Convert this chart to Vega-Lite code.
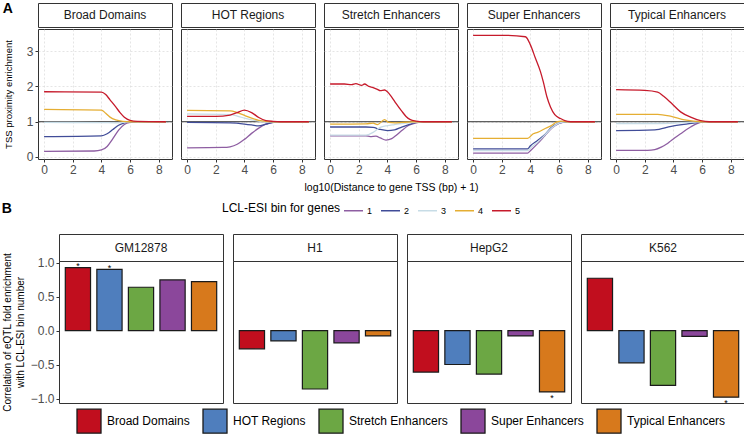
{
"$schema": "https://vega.github.io/schema/vega-lite/v6.json",
"padding": {"left": 1, "top": 1, "right": 0, "bottom": 0},
"datasets": {
"curves": [
{"p":"BD","b":"1","x":0,"y":0.16},{"p":"BD","b":"1","x":3.5,"y":0.17},{"p":"BD","b":"1","x":4,"y":0.2},{"p":"BD","b":"1","x":4.4,"y":0.3},{"p":"BD","b":"1","x":4.8,"y":0.52},{"p":"BD","b":"1","x":5.2,"y":0.76},{"p":"BD","b":"1","x":5.6,"y":0.92},{"p":"BD","b":"1","x":6,"y":0.98},{"p":"BD","b":"1","x":6.5,"y":1},{"p":"BD","b":"1","x":8.5,"y":1},
{"p":"BD","b":"2","x":0,"y":0.58},{"p":"BD","b":"2","x":4,"y":0.6},{"p":"BD","b":"2","x":4.4,"y":0.66},{"p":"BD","b":"2","x":4.8,"y":0.78},{"p":"BD","b":"2","x":5.2,"y":0.9},{"p":"BD","b":"2","x":5.6,"y":0.97},{"p":"BD","b":"2","x":6,"y":0.99},{"p":"BD","b":"2","x":6.5,"y":1},{"p":"BD","b":"2","x":8.5,"y":1},
{"p":"BD","b":"3","x":0,"y":0.98},{"p":"BD","b":"3","x":4,"y":0.975},{"p":"BD","b":"3","x":5,"y":0.97},{"p":"BD","b":"3","x":5.5,"y":0.98},{"p":"BD","b":"3","x":6,"y":0.995},{"p":"BD","b":"3","x":6.5,"y":1},{"p":"BD","b":"3","x":8.5,"y":1},
{"p":"BD","b":"4","x":0,"y":1.35},{"p":"BD","b":"4","x":4,"y":1.33},{"p":"BD","b":"4","x":4.3,"y":1.24},{"p":"BD","b":"4","x":4.6,"y":1.13},{"p":"BD","b":"4","x":5,"y":1.05},{"p":"BD","b":"4","x":5.5,"y":1.01},{"p":"BD","b":"4","x":6,"y":1},{"p":"BD","b":"4","x":8.5,"y":1},
{"p":"BD","b":"5","x":0,"y":1.85},{"p":"BD","b":"5","x":4,"y":1.84},{"p":"BD","b":"5","x":4.3,"y":1.77},{"p":"BD","b":"5","x":4.6,"y":1.62},{"p":"BD","b":"5","x":5,"y":1.42},{"p":"BD","b":"5","x":5.3,"y":1.26},{"p":"BD","b":"5","x":5.6,"y":1.13},{"p":"BD","b":"5","x":6,"y":1.04},{"p":"BD","b":"5","x":6.5,"y":1.01},{"p":"BD","b":"5","x":8.5,"y":1},
{"p":"HR","b":"1","x":0,"y":0.26},{"p":"HR","b":"1","x":2.5,"y":0.27},{"p":"HR","b":"1","x":3,"y":0.29},{"p":"HR","b":"1","x":3.5,"y":0.36},{"p":"HR","b":"1","x":4,"y":0.5},{"p":"HR","b":"1","x":4.5,"y":0.67},{"p":"HR","b":"1","x":5,"y":0.82},{"p":"HR","b":"1","x":5.5,"y":0.93},{"p":"HR","b":"1","x":6,"y":0.98},{"p":"HR","b":"1","x":6.5,"y":1},{"p":"HR","b":"1","x":8.5,"y":1},
{"p":"HR","b":"2","x":0,"y":0.98},{"p":"HR","b":"2","x":3,"y":0.965},{"p":"HR","b":"2","x":4,"y":0.935},{"p":"HR","b":"2","x":4.5,"y":0.91},{"p":"HR","b":"2","x":5,"y":0.88},{"p":"HR","b":"2","x":5.5,"y":0.93},{"p":"HR","b":"2","x":6,"y":0.98},{"p":"HR","b":"2","x":6.5,"y":1},{"p":"HR","b":"2","x":8.5,"y":1},
{"p":"HR","b":"3","x":0,"y":1.22},{"p":"HR","b":"3","x":3,"y":1.2},{"p":"HR","b":"3","x":3.5,"y":1.16},{"p":"HR","b":"3","x":4,"y":1.1},{"p":"HR","b":"3","x":4.5,"y":1.05},{"p":"HR","b":"3","x":5,"y":1.02},{"p":"HR","b":"3","x":5.5,"y":1},{"p":"HR","b":"3","x":8.5,"y":1},
{"p":"HR","b":"4","x":0,"y":1.32},{"p":"HR","b":"4","x":3,"y":1.31},{"p":"HR","b":"4","x":3.5,"y":1.26},{"p":"HR","b":"4","x":4,"y":1.18},{"p":"HR","b":"4","x":4.5,"y":1.1},{"p":"HR","b":"4","x":5,"y":1.04},{"p":"HR","b":"4","x":5.5,"y":1.01},{"p":"HR","b":"4","x":6,"y":1},{"p":"HR","b":"4","x":8.5,"y":1},
{"p":"HR","b":"5","x":0,"y":1.15},{"p":"HR","b":"5","x":2,"y":1.15},{"p":"HR","b":"5","x":3,"y":1.19},{"p":"HR","b":"5","x":3.5,"y":1.26},{"p":"HR","b":"5","x":4,"y":1.33},{"p":"HR","b":"5","x":4.5,"y":1.26},{"p":"HR","b":"5","x":5,"y":1.12},{"p":"HR","b":"5","x":5.5,"y":1.03},{"p":"HR","b":"5","x":6,"y":1.01},{"p":"HR","b":"5","x":6.5,"y":1},{"p":"HR","b":"5","x":8.5,"y":1},
{"p":"SE","b":"1","x":0,"y":0.6},{"p":"SE","b":"1","x":1.5,"y":0.6},{"p":"SE","b":"1","x":2.5,"y":0.6},{"p":"SE","b":"1","x":2.8,"y":0.58},{"p":"SE","b":"1","x":3.2,"y":0.59},{"p":"SE","b":"1","x":3.5,"y":0.54},{"p":"SE","b":"1","x":3.9,"y":0.48},{"p":"SE","b":"1","x":4.3,"y":0.52},{"p":"SE","b":"1","x":4.6,"y":0.61},{"p":"SE","b":"1","x":5,"y":0.75},{"p":"SE","b":"1","x":5.5,"y":0.9},{"p":"SE","b":"1","x":6,"y":0.97},{"p":"SE","b":"1","x":6.5,"y":1},{"p":"SE","b":"1","x":8.5,"y":1},
{"p":"SE","b":"2","x":0,"y":0.85},{"p":"SE","b":"2","x":2.5,"y":0.85},{"p":"SE","b":"2","x":3,"y":0.84},{"p":"SE","b":"2","x":3.5,"y":0.78},{"p":"SE","b":"2","x":4,"y":0.75},{"p":"SE","b":"2","x":4.5,"y":0.77},{"p":"SE","b":"2","x":5,"y":0.85},{"p":"SE","b":"2","x":5.5,"y":0.92},{"p":"SE","b":"2","x":6,"y":0.98},{"p":"SE","b":"2","x":6.5,"y":1},{"p":"SE","b":"2","x":8.5,"y":1},
{"p":"SE","b":"3","x":0,"y":0.62},{"p":"SE","b":"3","x":2.5,"y":0.62},{"p":"SE","b":"3","x":3,"y":0.7},{"p":"SE","b":"3","x":3.5,"y":0.84},{"p":"SE","b":"3","x":4,"y":0.89},{"p":"SE","b":"3","x":4.5,"y":0.92},{"p":"SE","b":"3","x":5,"y":0.95},{"p":"SE","b":"3","x":5.5,"y":0.97},{"p":"SE","b":"3","x":6,"y":0.99},{"p":"SE","b":"3","x":6.5,"y":1},{"p":"SE","b":"3","x":8.5,"y":1},
{"p":"SE","b":"4","x":0,"y":0.93},{"p":"SE","b":"4","x":2.5,"y":0.94},{"p":"SE","b":"4","x":3,"y":0.96},{"p":"SE","b":"4","x":3.3,"y":0.92},{"p":"SE","b":"4","x":3.8,"y":1.06},{"p":"SE","b":"4","x":4.1,"y":0.98},{"p":"SE","b":"4","x":4.5,"y":0.97},{"p":"SE","b":"4","x":5,"y":0.98},{"p":"SE","b":"4","x":5.5,"y":0.99},{"p":"SE","b":"4","x":6,"y":1},{"p":"SE","b":"4","x":8.5,"y":1},
{"p":"SE","b":"5","x":0,"y":2.07},{"p":"SE","b":"5","x":1,"y":2.07},{"p":"SE","b":"5","x":1.5,"y":2.05},{"p":"SE","b":"5","x":1.8,"y":2.08},{"p":"SE","b":"5","x":2.2,"y":2.03},{"p":"SE","b":"5","x":2.4,"y":2.07},{"p":"SE","b":"5","x":2.7,"y":2.0},{"p":"SE","b":"5","x":3,"y":1.97},{"p":"SE","b":"5","x":3.3,"y":1.92},{"p":"SE","b":"5","x":3.5,"y":1.88},{"p":"SE","b":"5","x":3.8,"y":1.9},{"p":"SE","b":"5","x":4,"y":1.85},{"p":"SE","b":"5","x":4.3,"y":1.7},{"p":"SE","b":"5","x":4.6,"y":1.52},{"p":"SE","b":"5","x":5,"y":1.3},{"p":"SE","b":"5","x":5.3,"y":1.15},{"p":"SE","b":"5","x":5.6,"y":1.06},{"p":"SE","b":"5","x":6,"y":1.02},{"p":"SE","b":"5","x":6.5,"y":1},{"p":"SE","b":"5","x":8.5,"y":1},
{"p":"SU","b":"1","x":0,"y":0.11},{"p":"SU","b":"1","x":3.8,"y":0.11},{"p":"SU","b":"1","x":4,"y":0.18},{"p":"SU","b":"1","x":4.5,"y":0.38},{"p":"SU","b":"1","x":5,"y":0.6},{"p":"SU","b":"1","x":5.5,"y":0.82},{"p":"SU","b":"1","x":6,"y":0.95},{"p":"SU","b":"1","x":6.5,"y":1},{"p":"SU","b":"1","x":8.5,"y":1},
{"p":"SU","b":"2","x":0,"y":0.23},{"p":"SU","b":"2","x":3.8,"y":0.23},{"p":"SU","b":"2","x":4,"y":0.32},{"p":"SU","b":"2","x":4.5,"y":0.47},{"p":"SU","b":"2","x":5,"y":0.63},{"p":"SU","b":"2","x":5.5,"y":0.85},{"p":"SU","b":"2","x":6,"y":0.96},{"p":"SU","b":"2","x":6.5,"y":1},{"p":"SU","b":"2","x":8.5,"y":1},
{"p":"SU","b":"3","x":0,"y":0.18},{"p":"SU","b":"3","x":3.8,"y":0.18},{"p":"SU","b":"3","x":4,"y":0.25},{"p":"SU","b":"3","x":4.5,"y":0.42},{"p":"SU","b":"3","x":5,"y":0.62},{"p":"SU","b":"3","x":5.5,"y":0.83},{"p":"SU","b":"3","x":6,"y":0.96},{"p":"SU","b":"3","x":6.5,"y":1},{"p":"SU","b":"3","x":8.5,"y":1},
{"p":"SU","b":"4","x":0,"y":0.53},{"p":"SU","b":"4","x":3.8,"y":0.53},{"p":"SU","b":"4","x":4.2,"y":0.66},{"p":"SU","b":"4","x":4.5,"y":0.7},{"p":"SU","b":"4","x":5,"y":0.8},{"p":"SU","b":"4","x":5.5,"y":0.9},{"p":"SU","b":"4","x":5.8,"y":0.99},{"p":"SU","b":"4","x":6.2,"y":1.02},{"p":"SU","b":"4","x":6.5,"y":1},{"p":"SU","b":"4","x":8.5,"y":1},
{"p":"SU","b":"5","x":0,"y":3.45},{"p":"SU","b":"5","x":2.3,"y":3.45},{"p":"SU","b":"5","x":3.65,"y":3.41},{"p":"SU","b":"5","x":4,"y":3.18},{"p":"SU","b":"5","x":4.35,"y":2.8},{"p":"SU","b":"5","x":4.7,"y":2.42},{"p":"SU","b":"5","x":4.9,"y":2.13},{"p":"SU","b":"5","x":5.15,"y":1.71},{"p":"SU","b":"5","x":5.4,"y":1.42},{"p":"SU","b":"5","x":5.7,"y":1.2},{"p":"SU","b":"5","x":6.1,"y":1.09},{"p":"SU","b":"5","x":6.4,"y":1.03},{"p":"SU","b":"5","x":6.8,"y":1},{"p":"SU","b":"5","x":8.5,"y":1},
{"p":"TE","b":"1","x":0,"y":0.19},{"p":"TE","b":"1","x":2.2,"y":0.19},{"p":"TE","b":"1","x":2.7,"y":0.21},{"p":"TE","b":"1","x":3.15,"y":0.28},{"p":"TE","b":"1","x":3.5,"y":0.36},{"p":"TE","b":"1","x":3.85,"y":0.47},{"p":"TE","b":"1","x":4.5,"y":0.66},{"p":"TE","b":"1","x":5.2,"y":0.85},{"p":"TE","b":"1","x":5.9,"y":0.98},{"p":"TE","b":"1","x":6.5,"y":1},{"p":"TE","b":"1","x":8.5,"y":1},
{"p":"TE","b":"2","x":0,"y":0.75},{"p":"TE","b":"2","x":2.7,"y":0.77},{"p":"TE","b":"2","x":3.85,"y":0.87},{"p":"TE","b":"2","x":5,"y":0.94},{"p":"TE","b":"2","x":5.9,"y":0.99},{"p":"TE","b":"2","x":6.5,"y":1},{"p":"TE","b":"2","x":8.5,"y":1},
{"p":"TE","b":"3","x":0,"y":0.95},{"p":"TE","b":"3","x":3,"y":0.95},{"p":"TE","b":"3","x":4,"y":0.96},{"p":"TE","b":"3","x":5,"y":0.98},{"p":"TE","b":"3","x":6,"y":1},{"p":"TE","b":"3","x":8.5,"y":1},
{"p":"TE","b":"4","x":0,"y":1.21},{"p":"TE","b":"4","x":2.9,"y":1.21},{"p":"TE","b":"4","x":3.85,"y":1.15},{"p":"TE","b":"4","x":4.8,"y":1.05},{"p":"TE","b":"4","x":5.9,"y":1},{"p":"TE","b":"4","x":8.5,"y":1},
{"p":"TE","b":"5","x":0,"y":1.91},{"p":"TE","b":"5","x":2,"y":1.89},{"p":"TE","b":"5","x":2.9,"y":1.84},{"p":"TE","b":"5","x":3.3,"y":1.73},{"p":"TE","b":"5","x":3.85,"y":1.53},{"p":"TE","b":"5","x":4.5,"y":1.28},{"p":"TE","b":"5","x":5.2,"y":1.13},{"p":"TE","b":"5","x":5.9,"y":1.03},{"p":"TE","b":"5","x":6.5,"y":1},{"p":"TE","b":"5","x":8.5,"y":1}
],
"bars": [
{"c":"GM12878","r":"Broad Domains","v":0.927,"s":"*"},{"c":"GM12878","r":"HOT Regions","v":0.902,"s":"*"},{"c":"GM12878","r":"Stretch Enhancers","v":0.639,"s":""},{"c":"GM12878","r":"Super Enhancers","v":0.746,"s":""},{"c":"GM12878","r":"Typical Enhancers","v":0.722,"s":""},
{"c":"H1","r":"Broad Domains","v":-0.268,"s":""},{"c":"H1","r":"HOT Regions","v":-0.151,"s":""},{"c":"H1","r":"Stretch Enhancers","v":-0.859,"s":""},{"c":"H1","r":"Super Enhancers","v":-0.18,"s":""},{"c":"H1","r":"Typical Enhancers","v":-0.078,"s":""},
{"c":"HepG2","r":"Broad Domains","v":-0.61,"s":""},{"c":"HepG2","r":"HOT Regions","v":-0.498,"s":""},{"c":"HepG2","r":"Stretch Enhancers","v":-0.639,"s":""},{"c":"HepG2","r":"Super Enhancers","v":-0.078,"s":""},{"c":"HepG2","r":"Typical Enhancers","v":-0.902,"s":"*"},
{"c":"K562","r":"Broad Domains","v":0.771,"s":""},{"c":"K562","r":"HOT Regions","v":-0.473,"s":""},{"c":"K562","r":"Stretch Enhancers","v":-0.805,"s":""},{"c":"K562","r":"Super Enhancers","v":-0.083,"s":""},{"c":"K562","r":"Typical Enhancers","v":-0.98,"s":"*"}
]
},
"vconcat": [
{
"title": {"text": "A", "offset": -13, "baseline": "top"},
"spacing": 0,
"vconcat": [
{"spacing": 9, "bounds": "flush", "hconcat": [
 {"width": 134, "height": 24, "data": {"values": [{"t": "Broad Domains"}]}, "mark": {"type": "text", "fontSize": 12, "color": "#1a1a1a"}, "encoding": {"text": {"field": "t"}, "x": {"datum": 0.5, "type": "quantitative", "scale": {"domain": [0, 1]}, "axis": null}, "y": {"datum": 0.5, "type": "quantitative", "scale": {"domain": [0, 1]}, "axis": null}}},
 {"width": 134, "height": 24, "data": {"values": [{"t": "HOT Regions"}]}, "mark": {"type": "text", "fontSize": 12, "color": "#1a1a1a"}, "encoding": {"text": {"field": "t"}, "x": {"datum": 0.5, "type": "quantitative", "scale": {"domain": [0, 1]}, "axis": null}, "y": {"datum": 0.5, "type": "quantitative", "scale": {"domain": [0, 1]}, "axis": null}}},
 {"width": 134, "height": 24, "data": {"values": [{"t": "Stretch Enhancers"}]}, "mark": {"type": "text", "fontSize": 12, "color": "#1a1a1a"}, "encoding": {"text": {"field": "t"}, "x": {"datum": 0.5, "type": "quantitative", "scale": {"domain": [0, 1]}, "axis": null}, "y": {"datum": 0.5, "type": "quantitative", "scale": {"domain": [0, 1]}, "axis": null}}},
 {"width": 134, "height": 24, "data": {"values": [{"t": "Super Enhancers"}]}, "mark": {"type": "text", "fontSize": 12, "color": "#1a1a1a"}, "encoding": {"text": {"field": "t"}, "x": {"datum": 0.5, "type": "quantitative", "scale": {"domain": [0, 1]}, "axis": null}, "y": {"datum": 0.5, "type": "quantitative", "scale": {"domain": [0, 1]}, "axis": null}}},
 {"width": 134, "height": 24, "data": {"values": [{"t": "Typical Enhancers"}]}, "mark": {"type": "text", "fontSize": 12, "color": "#1a1a1a"}, "encoding": {"text": {"field": "t"}, "x": {"datum": 0.5, "type": "quantitative", "scale": {"domain": [0, 1]}, "axis": null}, "y": {"datum": 0.5, "type": "quantitative", "scale": {"domain": [0, 1]}, "axis": null}}}
]},
{"spacing": 9, "bounds": "flush", "hconcat": [
 {"width": 134, "height": 130, "layer": [
  {"data": {"values": [{}]}, "mark": {"type": "rule", "color": "#333333", "strokeWidth": 1}, "encoding": {"y": {"datum": 1, "title": "TSS proximity enrichment"}}},
  {"data": {"name": "curves"}, "transform": [{"filter": "datum.p === 'BD'"}], "mark": {"type": "line", "strokeWidth": 1.3, "interpolate": "monotone"},
   "encoding": {
    "x": {"field": "x", "type": "quantitative", "scale": {"domain": [-0.425, 8.925], "nice": false, "zero": false}, "axis": {"values": [0,2,4,6,8], "grid": true, "gridColor": "#d4d4d4", "gridDash": [2,2], "gridWidth": 0.6}, "title": null},
    "y": {"field": "y", "type": "quantitative", "scale": {"domain": [-0.057, 3.63], "nice": false, "zero": false}, "axis": {"values": [0,1,2,3], "grid": true, "gridColor": "#d4d4d4", "gridDash": [2,2], "gridWidth": 0.6, "titlePadding": 13, "titleFontSize": 9.5}, "title": "TSS proximity enrichment"},
    "stroke": {"field": "b", "type": "nominal", "scale": {"domain": ["1","2","3","4","5"], "range": ["#8E5EA2","#404C98","#C7DCE6","#E5AE33","#C61A2B"]},
     "legend": {"title": "LCL-ESI bin for genes", "orient": "none", "legendX": 184, "legendY": 197, "direction": "horizontal", "titleOrient": "left", "titleFontSize": 12, "titleFontWeight": "normal", "titleColor": "#000000", "titlePadding": 2, "labelFontSize": 9, "labelOffset": 3, "columnPadding": 5, "symbolType": "stroke", "symbolSize": 361, "symbolStrokeWidth": 1.5}}
   }}
 ]},
 {"width": 134, "height": 130, "layer": [
  {"data": {"values": [{}]}, "mark": {"type": "rule", "color": "#333333", "strokeWidth": 1}, "encoding": {"y": {"datum": 1, "title": null}}},
  {"data": {"name": "curves"}, "transform": [{"filter": "datum.p === 'HR'"}], "mark": {"type": "line", "strokeWidth": 1.3, "interpolate": "monotone"},
   "encoding": {
    "x": {"field": "x", "type": "quantitative", "scale": {"domain": [-0.425, 8.925], "nice": false, "zero": false}, "axis": {"values": [0,2,4,6,8], "grid": true, "gridColor": "#d4d4d4", "gridDash": [2,2], "gridWidth": 0.6}, "title": null},
    "y": {"field": "y", "type": "quantitative", "scale": {"domain": [-0.057, 3.63], "nice": false, "zero": false}, "axis": {"values": [0,1,2,3], "grid": true, "gridColor": "#d4d4d4", "gridDash": [2,2], "gridWidth": 0.6, "labels": false, "ticks": false}, "title": null},
    "stroke": {"field": "b", "type": "nominal"}
   }}
 ]},
 {"width": 134, "height": 130, "layer": [
  {"data": {"values": [{}]}, "mark": {"type": "rule", "color": "#333333", "strokeWidth": 1}, "encoding": {"y": {"datum": 1, "title": null}}},
  {"data": {"name": "curves"}, "transform": [{"filter": "datum.p === 'SE'"}], "mark": {"type": "line", "strokeWidth": 1.3, "interpolate": "monotone"},
   "encoding": {
    "x": {"field": "x", "type": "quantitative", "scale": {"domain": [-0.425, 8.925], "nice": false, "zero": false}, "axis": {"values": [0,2,4,6,8], "grid": true, "gridColor": "#d4d4d4", "gridDash": [2,2], "gridWidth": 0.6, "titlePadding": 7}, "title": "log10(Distance to gene TSS (bp) + 1)"},
    "y": {"field": "y", "type": "quantitative", "scale": {"domain": [-0.057, 3.63], "nice": false, "zero": false}, "axis": {"values": [0,1,2,3], "grid": true, "gridColor": "#d4d4d4", "gridDash": [2,2], "gridWidth": 0.6, "labels": false, "ticks": false}, "title": null},
    "stroke": {"field": "b", "type": "nominal"}
   }}
 ]},
 {"width": 134, "height": 130, "layer": [
  {"data": {"values": [{}]}, "mark": {"type": "rule", "color": "#333333", "strokeWidth": 1}, "encoding": {"y": {"datum": 1, "title": null}}},
  {"data": {"name": "curves"}, "transform": [{"filter": "datum.p === 'SU'"}], "mark": {"type": "line", "strokeWidth": 1.3, "interpolate": "monotone"},
   "encoding": {
    "x": {"field": "x", "type": "quantitative", "scale": {"domain": [-0.425, 8.925], "nice": false, "zero": false}, "axis": {"values": [0,2,4,6,8], "grid": true, "gridColor": "#d4d4d4", "gridDash": [2,2], "gridWidth": 0.6}, "title": null},
    "y": {"field": "y", "type": "quantitative", "scale": {"domain": [-0.057, 3.63], "nice": false, "zero": false}, "axis": {"values": [0,1,2,3], "grid": true, "gridColor": "#d4d4d4", "gridDash": [2,2], "gridWidth": 0.6, "labels": false, "ticks": false}, "title": null},
    "stroke": {"field": "b", "type": "nominal"}
   }}
 ]},
 {"width": 134, "height": 130, "layer": [
  {"data": {"values": [{}]}, "mark": {"type": "rule", "color": "#333333", "strokeWidth": 1}, "encoding": {"y": {"datum": 1, "title": null}}},
  {"data": {"name": "curves"}, "transform": [{"filter": "datum.p === 'TE'"}], "mark": {"type": "line", "strokeWidth": 1.3, "interpolate": "monotone"},
   "encoding": {
    "x": {"field": "x", "type": "quantitative", "scale": {"domain": [-0.425, 8.925], "nice": false, "zero": false}, "axis": {"values": [0,2,4,6,8], "grid": true, "gridColor": "#d4d4d4", "gridDash": [2,2], "gridWidth": 0.6}, "title": null},
    "y": {"field": "y", "type": "quantitative", "scale": {"domain": [-0.057, 3.63], "nice": false, "zero": false}, "axis": {"values": [0,1,2,3], "grid": true, "gridColor": "#d4d4d4", "gridDash": [2,2], "gridWidth": 0.6, "labels": false, "ticks": false}, "title": null},
    "stroke": {"field": "b", "type": "nominal"}
   }}
 ]}
]}
]
},
{
"title": {"text": "B", "offset": 18},
"spacing": 27,
"bounds": "flush",
"vconcat": [
{"spacing": 10, "bounds": "flush", "hconcat": [
 {"width": 11, "height": 27, "view": {"stroke": null}, "data": {"values": [{}]}, "mark": {"type": "text"}, "encoding": {"text": {"value": ""}}},
 {"width": 164, "height": 27, "data": {"values": [{"t": "GM12878"}]}, "mark": {"type": "text", "fontSize": 12, "color": "#1a1a1a"}, "encoding": {"text": {"field": "t"}, "x": {"datum": 0.5, "type": "quantitative", "scale": {"domain": [0, 1]}, "axis": null}, "y": {"datum": 0.5, "type": "quantitative", "scale": {"domain": [0, 1]}, "axis": null}}},
 {"width": 164, "height": 27, "data": {"values": [{"t": "H1"}]}, "mark": {"type": "text", "fontSize": 12, "color": "#1a1a1a"}, "encoding": {"text": {"field": "t"}, "x": {"datum": 0.5, "type": "quantitative", "scale": {"domain": [0, 1]}, "axis": null}, "y": {"datum": 0.5, "type": "quantitative", "scale": {"domain": [0, 1]}, "axis": null}}},
 {"width": 164, "height": 27, "data": {"values": [{"t": "HepG2"}]}, "mark": {"type": "text", "fontSize": 12, "color": "#1a1a1a"}, "encoding": {"text": {"field": "t"}, "x": {"datum": 0.5, "type": "quantitative", "scale": {"domain": [0, 1]}, "axis": null}, "y": {"datum": 0.5, "type": "quantitative", "scale": {"domain": [0, 1]}, "axis": null}}},
 {"width": 164, "height": 27, "data": {"values": [{"t": "K562"}]}, "mark": {"type": "text", "fontSize": 12, "color": "#1a1a1a"}, "encoding": {"text": {"field": "t"}, "x": {"datum": 0.5, "type": "quantitative", "scale": {"domain": [0, 1]}, "axis": null}, "y": {"datum": 0.5, "type": "quantitative", "scale": {"domain": [0, 1]}, "axis": null}}}
]},
{"spacing": 10, "bounds": "flush", "hconcat": [
 {"width": 11, "height": 142, "view": {"stroke": null}, "data": {"values": [{}]}, "mark": {"type": "text"}, "encoding": {"text": {"value": ""}}},
 {"width": 164, "height": 142, "data": {"name": "bars"}, "transform": [{"filter": "datum.c === 'GM12878'"}],
  "encoding": {
   "x": {"field": "r", "type": "nominal", "axis": null, "scale": {"domain": ["Broad Domains","HOT Regions","Stretch Enhancers","Super Enhancers","Typical Enhancers"], "paddingInner": 0.2, "paddingOuter": 0.2}},
   "y": {"field": "v", "type": "quantitative", "scale": {"domain": [-1.065, 1.025], "nice": false}, "axis": {"values": [-1,-0.5,0,0.5,1], "format": ".1f", "grid": false, "titlePadding": 5, "titleFontSize": 10, "titleLineHeight": 13}, "title": ["Correlation of eQTL fold enrichment", "with LCL-ESI bin number"]}
  },
  "layer": [
   {"mark": {"type": "bar", "stroke": "#1a1a1a", "strokeWidth": 1.2}, "encoding": {"fill": {"field": "r", "type": "nominal", "scale": {"domain": ["Broad Domains","HOT Regions","Stretch Enhancers","Super Enhancers","Typical Enhancers"], "range": ["#C10E1E","#4F7EBD","#6CA744","#8B479B","#D7791C"]},
     "legend": {"title": null, "orient": "none", "legendX": 38, "legendY": 405, "direction": "horizontal", "symbolType": "square", "symbolSize": 576, "symbolStrokeColor": "#1a1a1a", "symbolStrokeWidth": 1.3, "labelFontSize": 12, "labelOffset": 5, "columnPadding": 10, "labelColor": "#000000"}}}},
   {"transform": [{"filter": "datum.s !== '' && datum.v > 0"}], "mark": {"type": "text", "baseline": "alphabetic", "dy": 1.5, "fontSize": 9}, "encoding": {"text": {"field": "s"}}},
   {"transform": [{"filter": "datum.s !== '' && datum.v < 0"}], "mark": {"type": "text", "baseline": "top", "dy": 2, "fontSize": 9}, "encoding": {"text": {"field": "s"}}}
  ]},
 {"width": 164, "height": 142, "data": {"name": "bars"}, "transform": [{"filter": "datum.c === 'H1'"}],
  "encoding": {
   "x": {"field": "r", "type": "nominal", "axis": null, "scale": {"domain": ["Broad Domains","HOT Regions","Stretch Enhancers","Super Enhancers","Typical Enhancers"], "paddingInner": 0.2, "paddingOuter": 0.2}},
   "y": {"field": "v", "type": "quantitative", "scale": {"domain": [-1.065, 1.025], "nice": false}, "axis": null}
  },
  "layer": [
   {"mark": {"type": "bar", "stroke": "#1a1a1a", "strokeWidth": 1.2}, "encoding": {"fill": {"field": "r", "type": "nominal"}}},
   {"transform": [{"filter": "datum.s !== '' && datum.v > 0"}], "mark": {"type": "text", "baseline": "alphabetic", "dy": 1.5, "fontSize": 9}, "encoding": {"text": {"field": "s"}}},
   {"transform": [{"filter": "datum.s !== '' && datum.v < 0"}], "mark": {"type": "text", "baseline": "top", "dy": 2, "fontSize": 9}, "encoding": {"text": {"field": "s"}}}
  ]},
 {"width": 164, "height": 142, "data": {"name": "bars"}, "transform": [{"filter": "datum.c === 'HepG2'"}],
  "encoding": {
   "x": {"field": "r", "type": "nominal", "axis": null, "scale": {"domain": ["Broad Domains","HOT Regions","Stretch Enhancers","Super Enhancers","Typical Enhancers"], "paddingInner": 0.2, "paddingOuter": 0.2}},
   "y": {"field": "v", "type": "quantitative", "scale": {"domain": [-1.065, 1.025], "nice": false}, "axis": null}
  },
  "layer": [
   {"mark": {"type": "bar", "stroke": "#1a1a1a", "strokeWidth": 1.2}, "encoding": {"fill": {"field": "r", "type": "nominal"}}},
   {"transform": [{"filter": "datum.s !== '' && datum.v > 0"}], "mark": {"type": "text", "baseline": "alphabetic", "dy": 1.5, "fontSize": 9}, "encoding": {"text": {"field": "s"}}},
   {"transform": [{"filter": "datum.s !== '' && datum.v < 0"}], "mark": {"type": "text", "baseline": "top", "dy": 2, "fontSize": 9}, "encoding": {"text": {"field": "s"}}}
  ]},
 {"width": 164, "height": 142, "data": {"name": "bars"}, "transform": [{"filter": "datum.c === 'K562'"}],
  "encoding": {
   "x": {"field": "r", "type": "nominal", "axis": null, "scale": {"domain": ["Broad Domains","HOT Regions","Stretch Enhancers","Super Enhancers","Typical Enhancers"], "paddingInner": 0.2, "paddingOuter": 0.2}},
   "y": {"field": "v", "type": "quantitative", "scale": {"domain": [-1.065, 1.025], "nice": false}, "axis": null}
  },
  "layer": [
   {"mark": {"type": "bar", "stroke": "#1a1a1a", "strokeWidth": 1.2}, "encoding": {"fill": {"field": "r", "type": "nominal"}}},
   {"transform": [{"filter": "datum.s !== '' && datum.v > 0"}], "mark": {"type": "text", "baseline": "alphabetic", "dy": 1.5, "fontSize": 9}, "encoding": {"text": {"field": "s"}}},
   {"transform": [{"filter": "datum.s !== '' && datum.v < 0"}], "mark": {"type": "text", "baseline": "top", "dy": 2, "fontSize": 9}, "encoding": {"text": {"field": "s"}}}
  ]}
]}
]
}
],
"spacing": 8,
"config": {
 "font": "Liberation Sans",
 "view": {"stroke": "#333333", "strokeWidth": 1},
 "axis": {"domain": false, "labelColor": "#4d4d4d", "labelFontSize": 12, "labelFont": "Liberation Sans", "tickColor": "#333333", "tickSize": 3, "labelPadding": 2, "titleColor": "#000000", "titleFontWeight": "normal", "titleFontSize": 10.5, "titleFont": "Liberation Sans", "grid": false},
 "legend": {"padding": 0, "labelColor": "#000000", "labelFont": "Liberation Sans", "titleFont": "Liberation Sans"},
 "title": {"fontSize": 14, "fontWeight": "bold", "anchor": "start", "frame": "bounds", "font": "Liberation Sans", "color": "#000000"}
}
}
